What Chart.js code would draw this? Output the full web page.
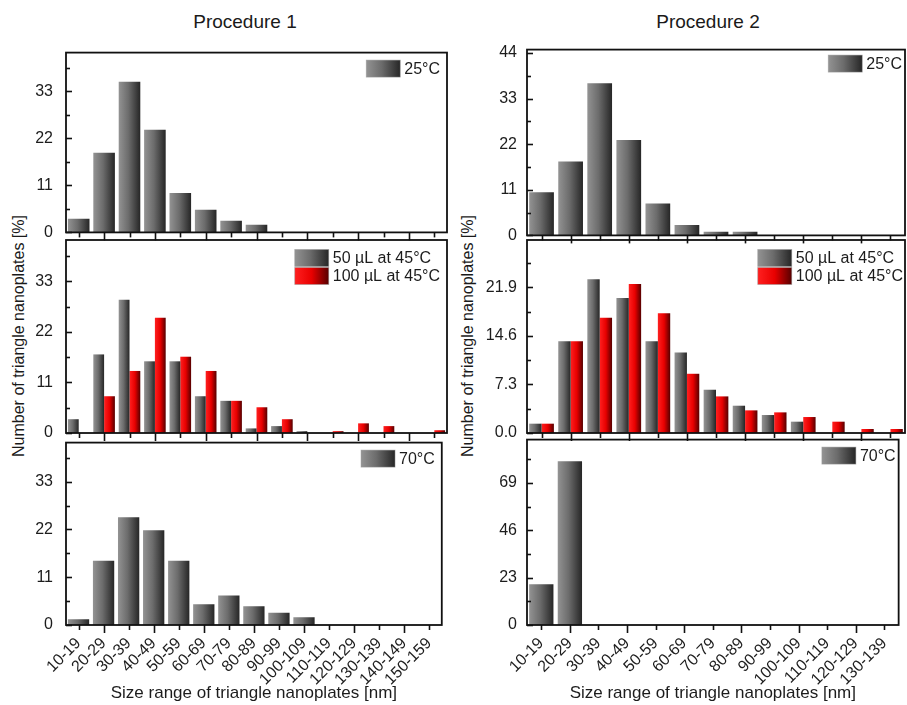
<!DOCTYPE html>
<html><head><meta charset="utf-8">
<script src="https://cdn.jsdelivr.net/npm/chart.js@4.4.1/dist/chart.umd.min.js"></script>
<style>
html,body{margin:0;padding:0;background:#fff;}
#fig{position:relative;width:907px;height:705px;overflow:hidden;background:#fff;font-family:"Liberation Sans",Arial,sans-serif;color:#1a1a1a;}
.pc{position:absolute;}
.ttl{position:absolute;font-size:19px;text-align:center;width:200px;line-height:24px;}
.ytl{position:absolute;font-size:16px;width:320px;height:20px;line-height:20px;text-align:center;transform:rotate(-90deg);white-space:nowrap;}
</style></head><body>
<div id="fig">
 <div class="ttl" style="left:145px;top:10px">Procedure 1</div>
 <div class="ttl" style="left:608px;top:10px">Procedure 2</div>
 <div class="ytl" style="left:-141px;top:326px">Number of triangle nanoplates [%]</div>
 <div class="ytl" style="left:308px;top:326px">Number of triangle nanoplates [%]</div>
 <canvas class="pc" id="p1top" width="452" height="225" style="left:0;top:30px"></canvas>
 <canvas class="pc" id="p1mid" width="452" height="280" style="left:0;top:200px"></canvas>
 <canvas class="pc" id="p1bot" width="452" height="285" style="left:0;top:420px"></canvas>
 <canvas class="pc" id="p2top" width="452" height="225" style="left:455px;top:30px"></canvas>
 <canvas class="pc" id="p2mid" width="452" height="280" style="left:455px;top:200px"></canvas>
 <canvas class="pc" id="p2bot" width="452" height="285" style="left:455px;top:420px"></canvas>
</div>
<script>
// ---------- data ----------
const categoriesP1 = ['10-19','20-29','30-39','40-49','50-59','60-69','70-79','80-89','90-99','100-109','110-119','120-129','130-139','140-149','150-159'];
const categoriesP2 = ['10-19','20-29','30-39','40-49','50-59','60-69','70-79','80-89','90-99','100-109','110-119','120-129','130-139'];

const p1_25C     = [3.2, 18.6, 35.2, 24.0, 9.2, 5.3, 2.7, 1.8, 0, 0, 0, 0, 0, 0, 0];
const p1_50uL45C = [3.0, 17.1, 29.0, 15.6, 15.6, 8.0, 7.0, 1.0, 1.5, 0.4, 0, 0, 0, 0, 0];
const p1_100uL45C= [0, 8.0, 13.5, 25.1, 16.6, 13.5, 7.0, 5.6, 3.0, 0, 0.4, 2.1, 1.5, 0, 0.6];
const p1_70C     = [1.3, 14.8, 24.8, 21.8, 14.8, 4.8, 6.8, 4.3, 2.8, 1.8, 0, 0, 0, 0, 0];

const p2_25C     = [10.4, 17.8, 36.7, 23.0, 7.7, 2.5, 0.9, 0.9, 0, 0, 0, 0, 0];
const p2_50uL45C = [1.4, 13.8, 23.1, 20.3, 13.8, 12.1, 6.5, 4.1, 2.7, 1.7, 0, 0, 0];
const p2_100uL45C= [1.4, 13.8, 17.3, 22.4, 18.0, 8.9, 5.5, 3.4, 3.1, 2.4, 1.7, 0.6, 0.6];
const p2_70C     = [19.8, 79.5, 0, 0, 0, 0, 0, 0, 0, 0, 0, 0, 0];

const ticksP1 = [0, 11, 22, 33];
const ticksP2top = [0, 11, 22, 33, 44];
const ticksP2mid = [0, 7.3, 14.6, 21.9];
const ticksP2bot = [0, 23, 46, 69];

const xTitle = 'Size range of triangle nanoplates [nm]';
const lbl25 = '25°C', lbl50 = '50 µL at 45°C', lbl100 = '100 µL at 45°C', lbl70 = '70°C';

// ---------- styles ----------
const GRAY = [[0,'#939393'],[0.45,'#6c6c6c'],[1,'#262626']];
const RED  = [[0,'#ff2020'],[0.5,'#e80000'],[1,'#560000']];
const FONT = '"Liberation Sans", Arial, sans-serif';
const TXT = '#1c1c1c';
const CAT_PCT = 0.85;

function barFill(stops) {
  return function (c) {
    const ch = c.chart, xs = ch.scales.x;
    if (c.type !== 'data' || !xs || !ch.chartArea) return stops[1][1];
    const n = ch.data.datasets.length;
    const cx = xs.getPixelForValue(c.dataIndex);
    const cw = Math.abs(xs.getPixelForValue(1) - xs.getPixelForValue(0));
    const gw = cw * CAT_PCT, slot = gw / n;
    const l = cx - gw / 2 + slot * c.datasetIndex, r = l + slot;
    const g = ch.ctx.createLinearGradient(l, 0, r, 0);
    stops.forEach(s => g.addColorStop(s[0], s[1]));
    return g;
  };
}

const framePlugin = {
  id: 'frame',
  afterDraw(chart, args, opts) {
    const { ctx, chartArea: a, scales: { x, y } } = chart;
    ctx.save();
    ctx.strokeStyle = '#111';
    ctx.lineWidth = 1.6;
    ctx.lineCap = 'butt';
    const tv = opts.yTicks, step = tv[1] - tv[0];
    for (let k = 0; k * step / 2 <= y.max + 1e-9; k++) {
      const py = Math.round(y.getPixelForValue(k * step / 2)) + 0.5;
      const len = k % 2 === 0 ? 6 : 4;
      ctx.beginPath(); ctx.moveTo(a.left, py); ctx.lineTo(a.left + len, py); ctx.stroke();
    }
    const n = chart.data.labels.length;
    for (let i = 0; i < n; i++) {
      const px = Math.round(x.getPixelForValue(i)) + 0.5;
      const len = i % 2 === 1 ? 8 : 5;
      ctx.beginPath(); ctx.moveTo(px, a.bottom); ctx.lineTo(px, a.bottom + len); ctx.stroke();
    }
    ctx.lineWidth = 1.8;
    ctx.strokeRect(a.left, a.top, a.right - a.left, a.bottom - a.top);
    ctx.restore();
  }
};

const legendPlugin = {
  id: 'boxLegend',
  afterDatasetsDraw(chart, args, opts) {
    const { ctx, chartArea: a } = chart;
    const ds = chart.data.datasets;
    ctx.save();
    ctx.font = '16px ' + FONT;
    const sw = 34, sh = 17, gap = 4, row = 18;
    const maxW = Math.max(...ds.map(d => ctx.measureText(d.label).width));
    const x0 = a.right - opts.inset - maxW - gap - sw;
    ds.forEach((d, i) => {
      const cy = a.top + opts.top + i * row;
      const g = ctx.createLinearGradient(x0, 0, x0 + sw, 0);
      d.stops.forEach(s => g.addColorStop(s[0], s[1]));
      ctx.fillStyle = g;
      ctx.fillRect(x0, cy - sh / 2, sw, sh);
      ctx.strokeStyle = 'rgba(150,150,150,0.6)';
      ctx.lineWidth = 0.8;
      ctx.strokeRect(x0, cy - sh / 2, sw, sh);
      ctx.fillStyle = TXT;
      ctx.textBaseline = 'middle';
      ctx.textAlign = 'left';
      ctx.fillText(d.label, x0 + sw + gap, cy + 1);
    });
    ctx.restore();
  }
};

function makePanel(id, o) {
  const datasets = o.series.map(s => ({
    label: s.label, data: s.data, stops: s.stops,
    backgroundColor: barFill(s.stops), borderWidth: 0,
    categoryPercentage: CAT_PCT, barPercentage: 1.0
  }));
  const xScale = o.showX ? {
    type: 'category', offset: true, display: true,
    grid: { display: false, drawTicks: false }, border: { display: false },
    ticks: { autoSkip: false, maxRotation: 45, minRotation: 45, padding: 9, color: TXT, font: { family: FONT, size: 16 } },
    title: { display: true, text: xTitle, color: TXT, font: { family: FONT, size: 17 }, padding: { top: 0, bottom: 1 } },
    afterFit: s => { s.height = o.xHeight; }
  } : { type: 'category', offset: true, display: false };
  return new Chart(document.getElementById(id), {
    type: 'bar',
    data: { labels: o.labels, datasets },
    options: {
      responsive: false, animation: false, events: [],
      layout: { padding: o.padding },
      plugins: { legend: { display: false }, tooltip: { enabled: false },
        frame: { yTicks: o.yTicks }, boxLegend: { inset: o.inset, top: o.legTop } },
      scales: {
        x: xScale,
        y: {
          min: 0, max: o.yMax,
          grid: { display: false, drawTicks: false }, border: { display: false },
          ticks: { padding: o.yPad, color: TXT, font: { family: FONT, size: 16 },
            callback: v => o.dec ? Number(v).toFixed(1) : String(v) },
          afterBuildTicks: s => { s.ticks = o.yTicks.map(v => ({ value: v })); },
          afterFit: s => { s.width = o.yWidth; }
        }
      }
    },
    plugins: [framePlugin, legendPlugin]
  });
}

// Procedure 1
makePanel('p1top', { labels: categoriesP1, series: [{ label: lbl25, data: p1_25C, stops: GRAY }],
  yMax: 42, yTicks: ticksP1, yWidth: 66, yPad: 13, padding: { top: 17, bottom: 15, right: 5, left: 0 },
  inset: 7, legTop: 16, showX: false });
makePanel('p1mid', { labels: categoriesP1, series: [{ label: lbl50, data: p1_50uL45C, stops: GRAY }, { label: lbl100, data: p1_100uL45C, stops: RED }],
  yMax: 42, yTicks: ticksP1, yWidth: 66, yPad: 13, padding: { top: 40, bottom: 47, right: 5, left: 0 },
  inset: 7, legTop: 18, showX: false });
makePanel('p1bot', { labels: categoriesP1, series: [{ label: lbl70, data: p1_70C, stops: GRAY }],
  yMax: 42, yTicks: ticksP1, yWidth: 66, yPad: 13, padding: { top: 13, bottom: 0, right: 5, left: 0 },
  inset: 7, legTop: 16, showX: true, xHeight: 80 });

// Procedure 2
makePanel('p2top', { labels: categoriesP2, series: [{ label: lbl25, data: p2_25C, stops: GRAY }],
  yMax: 44.8, yTicks: ticksP2top, yWidth: 72, yPad: 10, padding: { top: 17, bottom: 15, right: 2, left: 0 },
  inset: 3, legTop: 14, showX: false });
makePanel('p2mid', { labels: categoriesP2, series: [{ label: lbl50, data: p2_50uL45C, stops: GRAY }, { label: lbl100, data: p2_100uL45C, stops: RED }],
  yMax: 29, yTicks: ticksP2mid, dec: true, yWidth: 72, yPad: 10, padding: { top: 40, bottom: 47, right: 2, left: 0 },
  inset: 2, legTop: 18, showX: false });
makePanel('p2bot', { labels: categoriesP2, series: [{ label: lbl70, data: p2_70C, stops: GRAY }],
  yMax: 90, yTicks: ticksP2bot, yWidth: 72, yPad: 10, padding: { top: 13, bottom: 0, right: 2, left: 0 },
  inset: 3, legTop: 16, showX: true, xHeight: 80 });
</script>
</body></html>
